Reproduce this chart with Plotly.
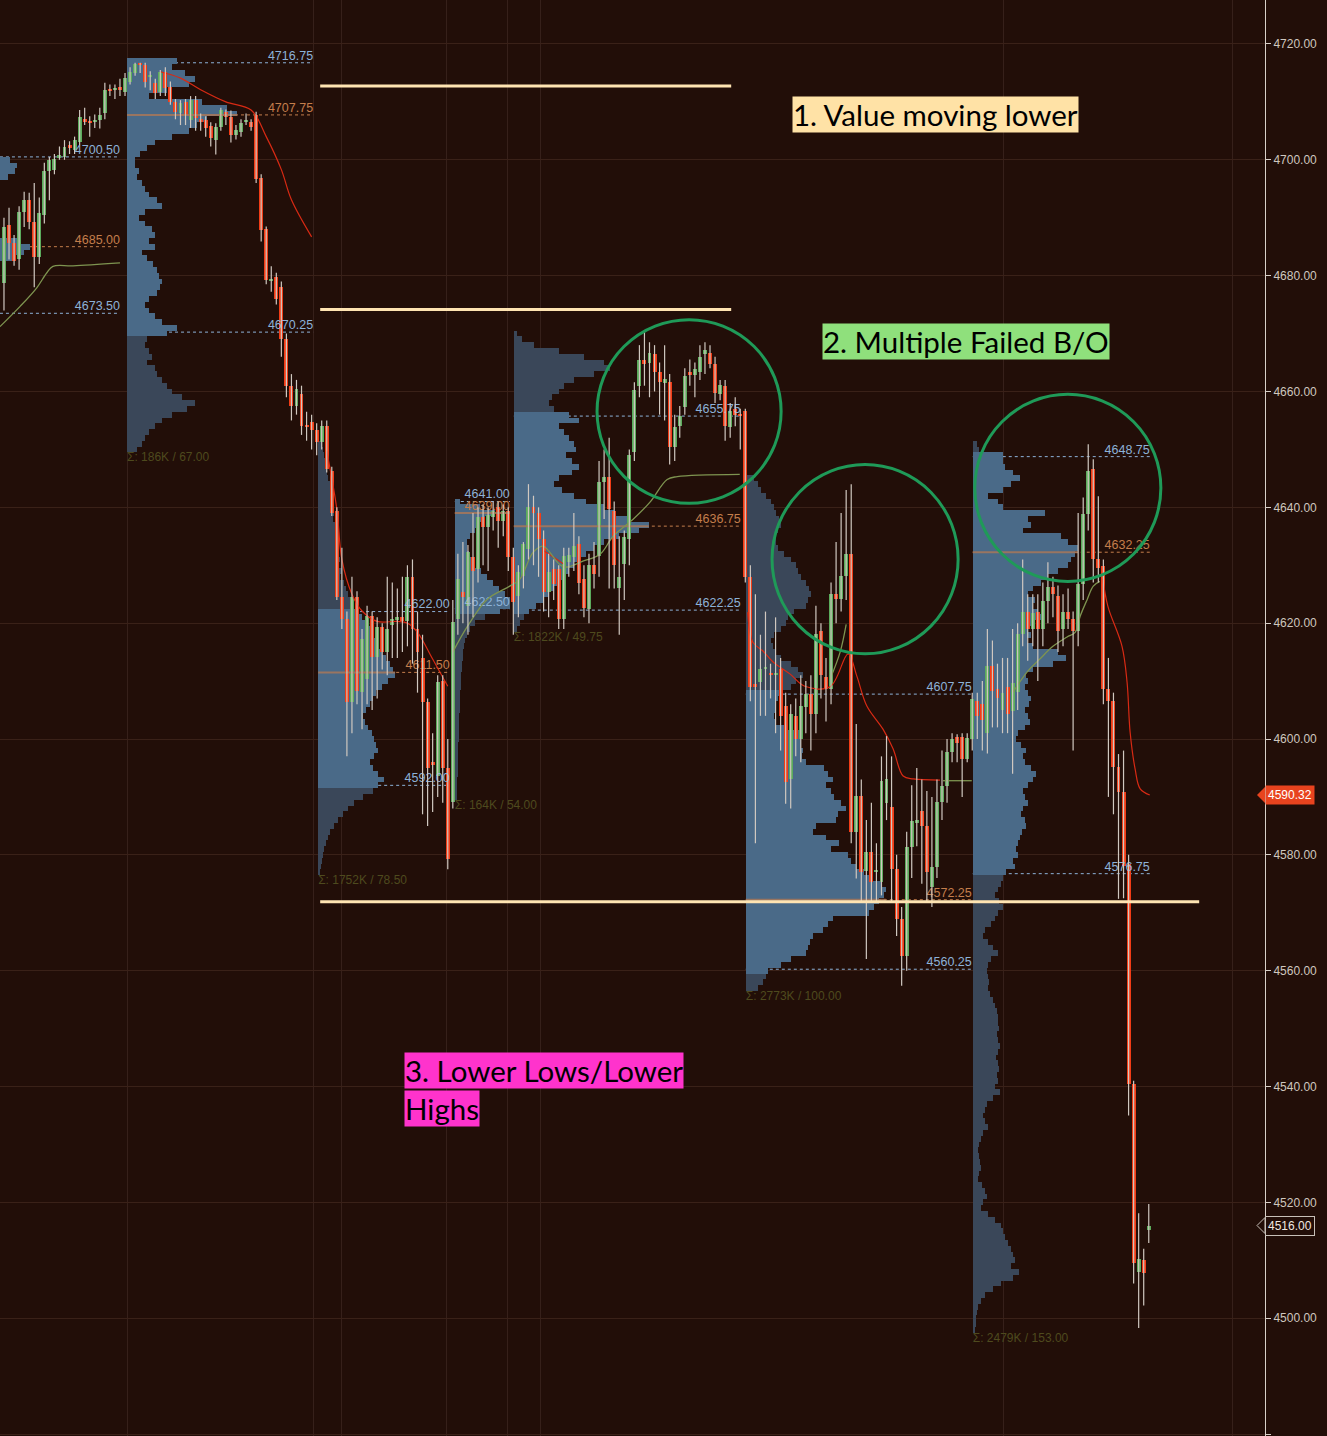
import plotly.graph_objects as go

BG = "#220e08"
BAR_PX = 5.043  # screen px between candles, used to size profile rows

# ---- candles (one per bar, left to right) ----
opens = [4678.8, 4688.8, 4685.7, 4682.8, 4691, 4693.1, 4689.3, 4683.3, 4690.5, 4698,
         4698.3, 4700.3, 4700.5, 4702.5, 4701.7, 4703.1, 4707, 4706.7, 4706.6, 4706.9,
         4708.1, 4712.2, 4712, 4712.5, 4711.7, 4713.4, 4715, 4716.5, 4716.4, 4714.3,
         4713.3, 4711.7, 4715.2, 4712.6, 4710, 4708.1, 4710, 4706.9, 4710.3, 4707,
         4706.9, 4705.8, 4703.5, 4705.7, 4708.3, 4707.4, 4704.3, 4704.8, 4706.5, 4706.6,
         4707.75, 4696.9, 4688, 4679, 4679.8, 4678, 4669, 4661, 4657.5, 4659.5,
         4654, 4654.8, 4653.4, 4651.2, 4654, 4646.2, 4639.3, 4624.5, 4620.7, 4606.4,
         4624.5, 4608.1, 4610.3, 4621.2, 4614.1, 4619.3, 4615, 4619.6, 4620.5, 4621,
         4620.3, 4627.9, 4619, 4614, 4606.4, 4596, 4593.6, 4610, 4595, 4589.1,
         4620.7, 4625.3, 4622.9, 4631.4, 4629.3, 4638.3, 4636.6, 4638.3, 4640, 4637.6,
         4639.3, 4631.4, 4624.7, 4628.1, 4632.8, 4640, 4639, 4634.5, 4625.3, 4629.3,
         4629.3, 4620.7, 4630.5, 4631.4, 4633.6, 4627.6, 4622.5, 4630.1, 4631.6, 4644.3,
         4645.2, 4639.3, 4626, 4630.2, 4634.5, 4649.5, 4660.9, 4665.5, 4665, 4666.4,
         4663.3, 4661.4, 4661.6, 4650.5, 4654, 4657.4, 4663.3, 4662.9, 4663.3, 4666.5,
         4666.6, 4664.7, 4659.5, 4660.9, 4653.8, 4656.9, 4655.9, 4656.6, 4628, 4609.5,
         4609.8, 4612, 4611.4, 4611, 4612, 4605.7, 4593.1, 4604, 4600, 4605.5,
         4607.8, 4604.3, 4618.6, 4610.7, 4608.6, 4625, 4624.1, 4628.1, 4631.9, 4584,
         4590.2, 4577.2, 4580.5, 4577, 4575.3, 4589, 4588.3, 4577.6, 4569, 4562.6,
         4581.4, 4585.5, 4587.6, 4585, 4574.5, 4577.9, 4589.1, 4591.9, 4597.8, 4600.3,
         4600.3, 4596.6, 4600, 4606.5, 4606, 4601, 4612.6, 4608.6, 4605, 4609,
         4604.8, 4608.1, 4618.1, 4621.9, 4619, 4622, 4619, 4623.8, 4626.2, 4624.7,
         4619, 4622, 4620.7, 4618.6, 4626.7, 4638.8, 4646.6, 4631, 4629.8, 4608.6,
         4606.6, 4595.2, 4590.9, 4578.4, 4540.5, 4508, 4510, 4515.2]
highs = [4690, 4691.7, 4687, 4692, 4694.5, 4694.3, 4696, 4693.5, 4699.5, 4700.5,
         4701, 4702.3, 4703.4, 4703.2, 4704, 4708.6, 4709, 4707.5, 4707.8, 4709,
         4713.3, 4713, 4713, 4714, 4715, 4716, 4716.75, 4716.75, 4716.75, 4715.3,
         4714, 4715.5, 4716, 4713.5, 4710.5, 4710.3, 4710.5, 4711, 4711, 4708,
         4707.5, 4706.5, 4706.3, 4709, 4708.7, 4708.5, 4706, 4707, 4708, 4707,
         4708.3, 4697.5, 4688.5, 4681.6, 4680.5, 4679, 4670, 4663, 4662, 4661,
         4656.5, 4656, 4654.5, 4655, 4655, 4647, 4640, 4633, 4622, 4628,
         4625.5, 4619, 4623, 4622, 4621, 4620, 4628, 4627, 4626, 4628,
         4630, 4631, 4622, 4618, 4607, 4601, 4611, 4611, 4600, 4624,
         4632, 4634, 4633.5, 4639, 4640, 4640.5, 4640, 4641, 4641, 4640.5,
         4640, 4633, 4630, 4634, 4644, 4642, 4640, 4636, 4632, 4631,
         4630, 4633, 4633, 4639, 4635, 4630, 4632, 4634, 4648, 4650,
         4652, 4641, 4635, 4636, 4650, 4661.6, 4668, 4670.3, 4668.5, 4668,
         4665, 4668, 4663, 4656, 4657.5, 4664, 4665.5, 4665, 4668, 4668.5,
         4668, 4666, 4662, 4662, 4658, 4659, 4657, 4657, 4630, 4625,
         4618, 4622, 4613, 4621, 4614, 4608, 4606, 4607, 4611, 4610,
         4611, 4623, 4620, 4614, 4627, 4634, 4639, 4643, 4644, 4602.6,
         4593, 4586, 4589, 4582, 4597, 4600.5, 4597, 4580, 4571, 4584,
         4592, 4595, 4593, 4591, 4590, 4593, 4598, 4600, 4601, 4600.8,
         4601, 4601, 4608, 4608, 4610, 4619, 4617, 4613, 4614, 4614,
         4619, 4620, 4631, 4625, 4625, 4625, 4627, 4630.5, 4628, 4626.5,
         4625, 4626, 4622, 4639, 4641.7, 4650.9, 4648.3, 4641.9, 4631, 4614,
         4608, 4597.4, 4598, 4580, 4541, 4518.1, 4512, 4519.7]
lows = [4674, 4682.8, 4681.7, 4681, 4688.4, 4688, 4678, 4682, 4689, 4693,
        4697.5, 4700, 4700, 4701, 4701, 4702.5, 4706, 4704, 4705.5, 4705.4,
        4707, 4711, 4710.5, 4711, 4711, 4713, 4714.5, 4715, 4712.5, 4712,
        4710.5, 4711, 4711, 4709.5, 4707, 4706, 4706, 4705.5, 4705, 4705,
        4704, 4702.3, 4700.9, 4705, 4706, 4703, 4703.5, 4704, 4706, 4705,
        4696, 4685.9, 4678.5, 4677.2, 4675, 4666, 4659, 4655, 4656, 4652.5,
        4651.5, 4650, 4649, 4650, 4646, 4638.5, 4624, 4619, 4597, 4601,
        4606, 4601.7, 4606, 4605, 4607, 4612, 4611, 4614, 4614, 4615,
        4616, 4613, 4608, 4587, 4585, 4587.4, 4590, 4589, 4577.5, 4588,
        4618, 4620, 4618, 4621, 4627, 4630, 4629, 4636, 4633, 4635,
        4629, 4618, 4621, 4626, 4631, 4630, 4628, 4622, 4621, 4624,
        4619, 4619, 4628, 4629, 4625, 4621, 4620, 4626, 4628, 4638,
        4626, 4626, 4618, 4624, 4630, 4648, 4659, 4661, 4659, 4660,
        4656, 4655, 4647.4, 4648, 4652, 4656, 4661, 4659, 4662, 4663,
        4664, 4658, 4658.5, 4651.5, 4652, 4654, 4650, 4627, 4606.5, 4582,
        4604, 4604, 4607, 4601, 4598, 4588.8, 4588, 4597, 4596, 4601,
        4598, 4601, 4607, 4603, 4606, 4620, 4622, 4624, 4582, 4575.9,
        4572, 4562, 4572, 4572, 4573, 4586, 4572, 4566, 4557.4, 4560,
        4576, 4581.5, 4575, 4572, 4571, 4576, 4586, 4589, 4596, 4596,
        4590, 4596, 4598, 4600, 4598, 4597.5, 4602, 4602, 4601, 4601,
        4594, 4605, 4616, 4613.5, 4616, 4610, 4616, 4620, 4621, 4615,
        4616, 4619, 4598, 4616, 4624, 4636, 4627, 4627, 4606, 4590,
        4587, 4572.4, 4572.5, 4535, 4506, 4498.3, 4502.2, 4513]
closes = [4688.4, 4685.7, 4682.6, 4691, 4693.1, 4689.3, 4683.3, 4690.9, 4698, 4700,
          4700.1, 4700.8, 4702.2, 4702, 4703.4, 4707.4, 4706.5, 4706.3, 4706.6, 4707.8,
          4712, 4711.8, 4712, 4712, 4714.2, 4715.2, 4716.6, 4716.3, 4713.4, 4714.6,
          4711.6, 4715.2, 4712.4, 4710, 4708.3, 4709.8, 4707.8, 4710.3, 4707.2, 4706.5,
          4705.5, 4703.8, 4705.7, 4708.6, 4707.4, 4704.3, 4705.2, 4706.4, 4706.8, 4705.7,
          4696.6, 4687.9, 4679.3, 4679.3, 4675.9, 4669, 4661, 4657.5, 4660.5, 4654,
          4653.8, 4653.4, 4651.2, 4654, 4646.6, 4639.1, 4624.5, 4620.7, 4606.4, 4624.5,
          4608.3, 4617.2, 4621.2, 4614.1, 4619.3, 4615, 4619, 4620.8, 4621, 4620.3,
          4627.9, 4619, 4615, 4606.4, 4595, 4595.5, 4609.8, 4595, 4579.3, 4620.2,
          4627.6, 4624.5, 4632.2, 4629, 4638.3, 4636.6, 4638.6, 4639.3, 4637.6, 4639.3,
          4631.4, 4623.6, 4628.8, 4633.6, 4640, 4639, 4634.5, 4625.3, 4628.8, 4626.7,
          4620.7, 4631.6, 4631.7, 4633.3, 4627, 4622.7, 4630, 4628.5, 4644.3, 4645.2,
          4639.7, 4630, 4628, 4634.8, 4649.1, 4660.3, 4665.5, 4664.8, 4666.6, 4663.3,
          4661.6, 4662.2, 4650.5, 4653.8, 4655.7, 4662.6, 4662.9, 4663.8, 4665.9, 4667.1,
          4664.7, 4659.8, 4661.2, 4654, 4656.6, 4656, 4655.7, 4627.9, 4609, 4609,
          4612, 4612.3, 4611, 4611.2, 4604, 4592.6, 4604.3, 4600, 4605.7, 4607.8,
          4604.3, 4618.1, 4611, 4608.6, 4625, 4624.1, 4628.1, 4631.9, 4584, 4590.2,
          4577.1, 4580.5, 4575.3, 4577.3, 4592.8, 4593.1, 4577.6, 4569, 4562.6, 4581.4,
          4585.9, 4586, 4585, 4577.1, 4577.9, 4589.1, 4591.9, 4597.8, 4600, 4599.3,
          4596.6, 4600.1, 4606.9, 4604, 4603.3, 4612.6, 4608.3, 4607, 4608, 4604.3,
          4609.6, 4618.1, 4621.9, 4619, 4621.7, 4619, 4623.8, 4626.2, 4625, 4618.6,
          4622, 4620.7, 4618.6, 4626.7, 4638.8, 4646.2, 4631, 4629.5, 4608.6, 4606.6,
          4595.2, 4590.9, 4578.1, 4540.5, 4509.6, 4510.3, 4507.8, 4516]

# ---- volume profiles: relative row sizes, one row per point, from the top down ----
p0_vol = [10, 17, 15, 8, 0, 0, 0, 0, 0, 0, 0, 0, 0, 0, 18, 30, 24, 12]
p1_vol = [50, 45, 58, 68, 62, 40, 22, 75, 100, 110,
          80, 70, 62, 45, 28, 20, 13, 8, 8, 12,
          10, 15, 18, 22, 30, 35, 18, 12, 18, 25,
          28, 22, 28, 15, 20, 26, 30, 32, 35, 33,
          30, 22, 18, 22, 28, 35, 50, 40,
          20, 18, 22, 25, 20, 28, 30, 35, 40, 45,
          55, 68, 60, 45, 35, 28, 22, 18, 15, 10]
p2_vol = [4, 5, 6, 7, 8, 9, 10, 12, 12, 13,
          14, 15, 16, 15, 17, 18, 17, 19, 20, 18,
          22, 21, 24, 22, 26, 28, 30, 33, 36, 40,
          44, 47, 52, 55, 58, 60, 64, 68, 72, 75,
          77, 70, 64, 58, 55, 52, 48, 45, 47, 50,
          54, 56, 58, 60, 56, 52, 55, 60, 66, 60,
          55, 45, 36, 30, 25, 20, 16, 12, 10, 8,
          6, 5, 4, 3, 2]
p3_vol = [5, 25, 40, 30, 25, 20, 15, 12, 12, 14,
          16, 20, 26, 32, 38, 44, 50, 55, 55, 45,
          30, 20, 15, 12, 10, 9, 8, 8, 7, 7,
          6, 6, 6, 5, 5, 5, 5, 4, 4, 4,
          4, 4, 3, 3, 3, 3, 3, 3, 2, 2,
          2, 2]
p4_vol = [3, 8, 20, 45, 70, 90, 96, 80, 60, 50,
          45, 38, 35, 40, 55, 65, 45, 50, 55, 60,
          62, 52, 58, 65, 58, 45, 40, 48, 60, 72,
          90, 100, 115, 135, 125, 105, 90, 80, 72, 65,
          60, 55, 50, 45, 40, 35, 30, 22, 15, 10,
          6, 3]
p5_vol = [8, 12, 15, 20, 25, 28, 30, 33, 35, 32,
          30, 30, 32, 38, 45, 50, 52, 55, 60, 63,
          65, 62, 60, 48, 42, 40, 35, 28, 25, 27,
          30, 35, 45, 52, 57, 50, 45, 35, 32, 30,
          30, 28, 30, 40, 53, 55, 55, 57, 56, 60,
          78, 82, 87, 80, 85, 88, 95, 100, 92, 90,
          70, 67, 80, 93, 85, 102, 105, 110, 118, 127,
          135, 140, 138, 133, 128, 123, 87, 82, 77, 67,
          64, 62, 60, 45, 35, 22, 20, 17, 12]
p6_vol = [4, 6, 30, 30, 32, 40, 47, 38, 30, 15,
          25, 30, 72, 55, 58, 50, 88, 95, 105, 102,
          98, 95, 85, 75, 68, 60, 55, 62, 60, 65,
          70, 62, 55, 58, 54, 60, 85, 93, 80, 60,
          53, 55, 52, 55, 58, 56, 52, 55, 57, 52,
          45, 43, 48, 53, 50, 52, 58, 63, 60, 55,
          50, 52, 55, 50, 48, 52, 53, 49, 47, 45,
          43, 45, 40, 42, 33, 30, 28, 25, 22, 26,
          30, 25, 22, 18, 12, 10, 15, 20, 25, 18,
          15, 14, 15, 16, 15, 17, 20, 22, 24, 25,
          25, 26, 24, 25, 27, 25, 23, 25, 26, 24,
          25, 22, 27, 20, 14, 12, 10, 12, 15, 10,
          8, 6, 5, 6, 7, 8, 6, 5, 9, 12,
          14, 10, 8, 15, 22, 28, 30, 32, 35, 38,
          40, 42, 38, 46, 40, 28, 20, 12, 8, 5,
          4, 3, 3, 2]

profile_vols = [p0_vol, p1_vol, p2_vol, p3_vol, p4_vol, p5_vol, p6_vol]
profile_tops = [4700, 4717, 4651, 4641, 4670, 4645, 4651]
session_start = [-0.8, 24.4, 62.3, 89.4, 101.1, 147.1, 192.1]
session_end = [23.0, 61.3, 88.4, 100.3, 146.1, 191.9, 227.2]
va_high = [4700.50, 4716.75, 4622.00, 4641.00, 4655.75, 4607.75, 4648.75]
poc = [4685.00, 4707.75, 4611.50, 4639.00, 4636.75, 4572.25, 4632.25]
va_low = [4673.50, 4670.25, 4592.00, 4622.50, 4622.25, 4560.25, 4576.75]
sigma_labels = ["", "Σ: 186K / 67.00", "Σ: 1752K / 78.50", "Σ: 164K / 54.00",
                "Σ: 1822K / 49.75", "Σ: 2773K / 100.00", "Σ: 2479K / 153.00"]

# ---- session VWAP-style lines ----
red_lines = [
    ([31, 35, 39, 44, 49, 52, 55, 57, 61],
     [4715.2, 4714.1, 4712.1, 4710.0, 4708.6, 4704.0, 4698.3, 4693.1, 4686.7]),
    ([64, 66, 67, 69, 71, 74, 78, 80, 82, 85, 88],
     [4649.7, 4639.7, 4631.0, 4625.0, 4622.1, 4620.3, 4620.3, 4620.0, 4618.4, 4613.8, 4609.1]),
    ([107, 109, 111], [4632.5, 4631.4, 4630.2]),
    ([147.5, 148.5, 150.5, 152.5, 155.9, 158.8, 163.8, 167.4, 169.1, 171.1, 174.3, 176.3, 178.3, 180.3, 185.6],
     [4621.9, 4616.7, 4615.2, 4613.3, 4611.2, 4609.1, 4609.0, 4614.7, 4610.9, 4605.7, 4601.7, 4598.3, 4593.6, 4593.1, 4592.9]),
    ([217.9, 218.9, 221.7, 222.7, 223.3, 224.3, 225.3, 227.2],
     [4627.6, 4622.9, 4616.0, 4609.8, 4601.2, 4594.8, 4591.4, 4590.32]),
]
green_lines = [
    ([-0.8, 3.2, 6.5, 8.5, 9.7, 13.7, 23.0],
     [4671.2, 4674.7, 4677.9, 4680.5, 4681.6, 4681.7, 4682.2]),
    ([89.0, 91.8, 95.8, 100.3, 102.3, 104.9, 106.9, 110.9, 114.8, 118.2, 120.8, 124.7, 128.1, 131.5, 133.5, 145.9],
     [4615.0, 4619.3, 4624.1, 4626.4, 4627.6, 4632.2, 4633.3, 4629.7, 4630.7, 4631.9, 4635.0, 4637.9, 4640.9, 4644.8, 4645.3, 4645.7]),
    ([163.8, 165.8, 167.0], [4610.3, 4615.0, 4619.8]),
    ([186.2, 191.9], [4592.8, 4592.8]),
    ([200.1, 202.9, 205.4, 208.0, 210.8, 212.4, 213.4, 214.8, 216.0, 217.3],
     [4608.1, 4611.6, 4613.8, 4616.0, 4617.6, 4618.4, 4621.2, 4624.1, 4626.4, 4627.2]),
]

vwap_last = 4590.32
last_price = 4516.00

LIGHT = "#4a6a88"
DARK = "#3a4759"
BLUE_TXT = "#8db2d8"
ORANGE_TXT = "#c47e4c"
SIGMA_TXT = "#4e4a1e"

fig = go.Figure()
shapes = []

# profiles
for k, vol in enumerate(profile_vols):
    prices = [profile_tops[k] - j for j in range(len(vol))]
    colors = [LIGHT if va_low[k] - 0.5 <= p <= va_high[k] + 0.5 else DARK for p in prices]
    fig.add_trace(go.Bar(
        orientation="h", y=prices, x=[v / BAR_PX for v in vol], base=session_start[k],
        width=1.0, marker=dict(color=colors, line=dict(width=0)), hoverinfo="skip",
    ))
    # level lines (dashed) under the profile
    for lvl, col in ((va_high[k], BLUE_TXT), (poc[k], ORANGE_TXT), (va_low[k], BLUE_TXT)):
        shapes.append(dict(type="line", xref="x", yref="y", layer="between",
                           x0=session_start[k], x1=session_end[k], y0=lvl, y1=lvl,
                           line=dict(color=col, width=1, dash="dot")))

# POC solid segments
for k, vol in enumerate(profile_vols):
    if k == 0:
        continue
    fig.add_trace(go.Scatter(
        x=[session_start[k], session_start[k] + max(vol) / BAR_PX], y=[poc[k], poc[k]],
        mode="lines", line=dict(color="#a8785a", width=2), opacity=0.85, hoverinfo="skip"))

# level labels
lab_x, lab_y, lab_t, lab_c = [], [], [], []
for k in range(len(profile_vols)):
    for lvl, col in ((va_high[k], BLUE_TXT), (poc[k], ORANGE_TXT), (va_low[k], BLUE_TXT)):
        lab_x.append(session_end[k])
        lab_y.append(lvl)
        lab_t.append(f"{lvl:.2f}")
        lab_c.append(col)
fig.add_trace(go.Scatter(x=lab_x, y=lab_y, text=lab_t, mode="text", textposition="top left",
                         textfont=dict(family="Liberation Sans", size=12.5, color=lab_c),
                         hoverinfo="skip"))

sig_x, sig_y, sig_t = [], [], []
for k in range(1, len(profile_vols)):
    sig_x.append(session_start[k])
    sig_y.append(profile_tops[k] - len(profile_vols[k]) + 0.5)
    sig_t.append(sigma_labels[k])
fig.add_trace(go.Scatter(x=sig_x, y=sig_y, text=sig_t, mode="text", textposition="bottom right",
                         textfont=dict(family="Liberation Sans", size=12, color=SIGMA_TXT),
                         hoverinfo="skip"))

for xs, ys in red_lines:
    fig.add_trace(go.Scatter(x=xs, y=ys, mode="lines", line=dict(color="#d82a14", width=1.2),
                             line_shape="spline", hoverinfo="skip"))
for xs, ys in green_lines:
    fig.add_trace(go.Scatter(x=xs, y=ys, mode="lines", line=dict(color="#7e9450", width=1.3),
                             line_shape="spline", hoverinfo="skip"))

# candles: wicks then bodies
idx = list(range(len(closes)))
wx, wy = [], []
for i in idx:
    wx += [i, i, None]
    wy += [lows[i], highs[i], None]
fig.add_trace(go.Scatter(x=wx, y=wy, mode="lines", line=dict(color="#d0c8c0", width=1.2),
                         hoverinfo="skip"))
body_base = [min(o, c) for o, c in zip(opens, closes)]
body_len = [max(abs(c - o), 0.35) for o, c in zip(opens, closes)]
body_col = ["#5cab5c" if c >= o else "#f23c16" for o, c in zip(opens, closes)]
fig.add_trace(go.Bar(x=idx, y=body_len, base=body_base, width=0.78,
                     marker=dict(color=body_col, line=dict(width=0)), hoverinfo="skip"))

# cream guide lines
for y0, x1 in ((4712.76, 144.2), (4674.14, 144.2), (4571.9, 237.0)):
    shapes.append(dict(type="line", xref="x", yref="y", x0=62.7, x1=x1, y0=y0, y1=y0,
                       line=dict(color="#ffe4b2", width=3)))
# failed breakout circles
for x0, x1, y0, y1 in ((117.6, 154.1, 4640.7, 4672.4), (152.3, 189.2, 4614.7, 4647.4),
                       (192.5, 229.4, 4627.2, 4659.5)):
    shapes.append(dict(type="circle", xref="x", yref="y", x0=x0, x1=x1, y0=y0, y1=y1,
                       line=dict(color="#1f9a58", width=3)))
# price tag arrows
shapes.append(dict(type="path", xref="paper", yref="y", xsizemode="pixel", ysizemode="pixel",
                   xanchor=1, yanchor=vwap_last, path="M-8,0 L0,8 L0,-8 Z",
                   fillcolor="#e8431e", line=dict(width=0)))
shapes.append(dict(type="path", xref="paper", yref="y", xsizemode="pixel", ysizemode="pixel",
                   xanchor=1, yanchor=last_price, path="M-8,0 L0,8 L0,-8 Z",
                   fillcolor=BG, line=dict(color="#c8c0b8", width=1)))

ann_font = dict(family="Lato", size=29.5, color="#000000")
annotations = [
    dict(x=0.6261, y=0.9331, xref="paper", yref="paper", xanchor="left", yanchor="top",
         text="1. Value moving lower", showarrow=False, bgcolor="#ffe2a6", font=ann_font, borderpad=0),
    dict(x=0.6498, y=0.7751, xref="paper", yref="paper", xanchor="left", yanchor="top",
         text="2. Multiple Failed B/O", showarrow=False, bgcolor="#8fe07c", font=ann_font, borderpad=0),
    dict(x=0.3194, y=0.2674, xref="paper", yref="paper", xanchor="left", yanchor="top",
         text="3. Lower Lows/Lower", showarrow=False, bgcolor="#ff33cc", font=ann_font, borderpad=0),
    dict(x=0.3194, y=0.2409, xref="paper", yref="paper", xanchor="left", yanchor="top",
         text="Highs", showarrow=False, bgcolor="#ff33cc", font=ann_font, borderpad=0),
    dict(x=1, y=vwap_last, xref="paper", yref="y", xanchor="left", yanchor="middle",
         text=f"{vwap_last:.2f}", showarrow=False, bgcolor="#e8431e", borderpad=2,
         font=dict(family="Liberation Sans", size=12, color="#ffffff")),
    dict(x=1, y=last_price, xref="paper", yref="y", xanchor="left", yanchor="middle",
         text=f"{last_price:.2f}", showarrow=False, bgcolor=BG, bordercolor="#c8c0b8",
         borderwidth=1, borderpad=2, font=dict(family="Liberation Sans", size=12, color="#f0e8e0")),
]

fig.update_layout(
    width=1327, height=1436,
    margin=dict(l=0, r=62, t=0, b=0, pad=0),
    paper_bgcolor=BG, plot_bgcolor=BG,
    showlegend=False, barmode="overlay", bargap=0,
    shapes=shapes, annotations=annotations,
    xaxis=dict(range=[-0.79, 250.05], showticklabels=False, zeroline=False, showline=False,
               tickvals=[24.4, 61.3, 67.0, 87.8, 99.9, 106.3, 198.1, 243.7],
               showgrid=True, gridcolor="#36201a", gridwidth=1, ticks=""),
    yaxis=dict(range=[4479.66, 4727.59], side="right", dtick=20, tick0=4480, tickformat=".2f",
               showgrid=True, gridcolor="#3a2118", gridwidth=1, zeroline=False,
               showline=True, linecolor="#d8d0c8", linewidth=1,
               ticks="outside", ticklen=5, tickcolor="#d8d0c8",
               tickfont=dict(family="Liberation Sans", size=12, color="#cfc7bf")),
)

fig.write_html("out.html", config={"displayModeBar": False},
               post_script="document.body.style.margin='0';")
